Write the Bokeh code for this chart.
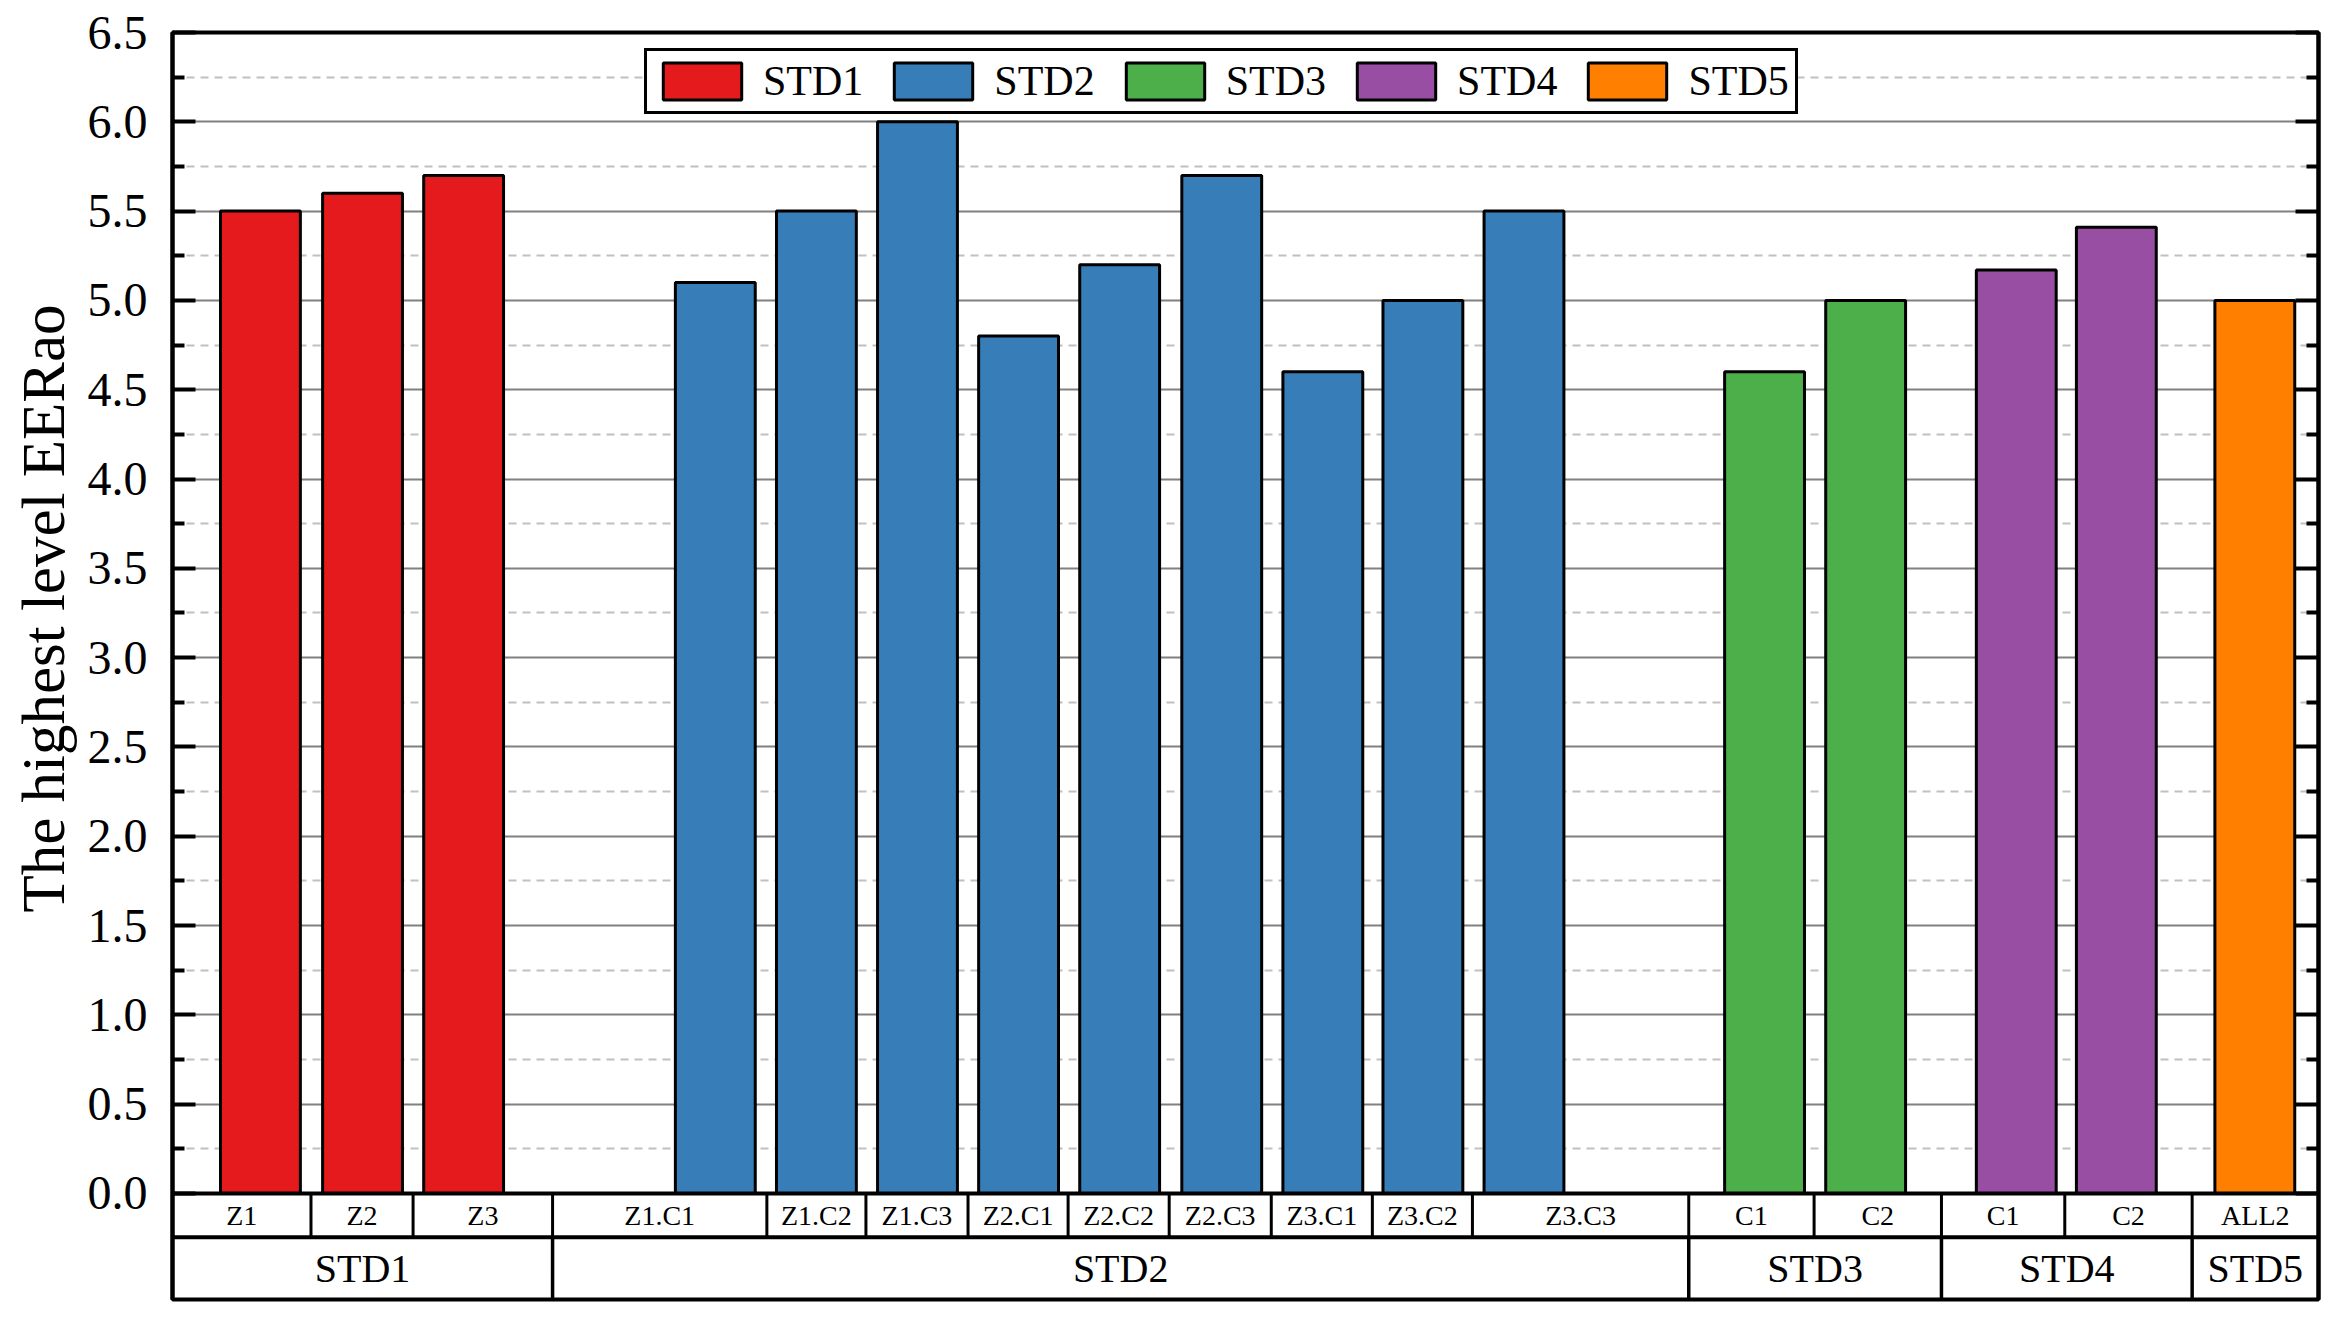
from bokeh.plotting import figure
from bokeh.models import Range1d, FixedTicker, LinearAxis, ColumnDataSource, NumeralTickFormatter, Title
from bokeh.core.properties import value
from bokeh.embed import file_html
from bokeh.resources import INLINE

# ---------------- data ----------------
groups = ["STD1", "STD2", "STD3", "STD4", "STD5"]
group_sizes = [3, 9, 2, 2, 1]
categories = ["Z1", "Z2", "Z3",
              "Z1.C1", "Z1.C2", "Z1.C3", "Z2.C1", "Z2.C2", "Z2.C3", "Z3.C1", "Z3.C2", "Z3.C3",
              "C1", "C2",
              "C1", "C2",
              "ALL2"]
values = [5.5, 5.6, 5.7,
          5.1, 5.5, 6.0, 4.8, 5.2, 5.7, 4.6, 5.0, 5.5,
          4.6, 5.0,
          5.17, 5.41,
          5.0]
group_colors = ["#E41A1C", "#377EB8", "#4DAF4A", "#984EA3", "#FF7F00"]
major_ticks = [0.0, 0.5, 1.0, 1.5, 2.0, 2.5, 3.0, 3.5, 4.0, 4.5, 5.0, 5.5, 6.0, 6.5]
minor_ticks = [0.25, 0.75, 1.25, 1.75, 2.25, 2.75, 3.25, 3.75, 4.25, 4.75, 5.25, 5.75, 6.25]
y_label = "The highest level EERao"

# ---------------- layout (x in slot units) ----------------
bar_x = [0.87, 1.88, 2.88,
         5.37, 6.37, 7.37, 8.37, 9.37, 10.38, 11.38, 12.37, 13.37,
         15.75, 16.75,
         18.24, 19.23,
         20.60]
bar_width = 0.79
cell_edges = [0.0, 1.37, 2.38, 3.76, 5.88, 6.86, 7.87, 8.86, 9.86, 10.87, 11.87, 12.86,
              15.0, 16.24, 17.50, 18.72, 19.98, 21.23]
x_max = 21.23
row1_y = -0.246
table_bottom = -0.594
FONT = "Liberation Serif"

bar_groups = []
bar_colors = []
for g, n, c in zip(groups, group_sizes, group_colors):
    bar_groups += [g] * n
    bar_colors += [c] * n

group_edge_idx = [0]
for n in group_sizes:
    group_edge_idx.append(group_edge_idx[-1] + n)
group_edges = [cell_edges[i] for i in group_edge_idx]

cell_centers = [(a + b) / 2 for a, b in zip(cell_edges[:-1], cell_edges[1:])]
group_centers = [(a + b) / 2 for a, b in zip(group_edges[:-1], group_edges[1:])]

p = figure(width=2332, height=1309,
           x_range=Range1d(0, x_max), y_range=Range1d(table_bottom, 6.5),
           output_backend="svg", toolbar_location=None,
           x_axis_location=None, y_axis_location="left",
           min_border_left=172, min_border_top=32, min_border_right=14, min_border_bottom=10)
p.background_fill_color = "white"
p.border_fill_color = "white"
p.outline_line_color = "black"
p.outline_line_width = 4

ticker = FixedTicker(ticks=major_ticks, minor_ticks=minor_ticks)

ya = p.yaxis[0]
ya.ticker = ticker
ya.formatter = NumeralTickFormatter(format="0.0")
ya.major_label_text_font = FONT
ya.major_label_text_font_size = "48px"
ya.major_label_text_color = "black"
ya.major_label_standoff = 25
ya.axis_line_width = 4
ya.axis_line_color = "black"
ya.major_tick_in = 23
ya.major_tick_out = 0
ya.minor_tick_in = 12
ya.minor_tick_out = 0
ya.major_tick_line_width = 4
ya.minor_tick_line_width = 4
ya.major_tick_line_color = "black"
ya.minor_tick_line_color = "black"

p.add_layout(Title(text=y_label, align="right", offset=272, text_font=FONT,
                   text_font_size="61px", text_font_style="normal", text_color="black",
                   standoff=15), "left")

ra = LinearAxis(ticker=ticker, major_label_overrides={t: "" for t in major_ticks},
                major_label_standoff=0,
                axis_line_width=4, axis_line_color="black",
                major_tick_in=23, major_tick_out=0, minor_tick_in=12, minor_tick_out=0,
                major_tick_line_width=4, minor_tick_line_width=4)
p.add_layout(ra, "right")

p.xgrid.visible = False
p.ygrid.ticker = ticker
p.ygrid.grid_line_color = "#808080"
p.ygrid.grid_line_width = 2
p.ygrid.minor_grid_line_color = "#c0c0c0"
p.ygrid.minor_grid_line_width = 2
p.ygrid.minor_grid_line_dash = "8 6"

src = ColumnDataSource(dict(x=bar_x, top=values, color=bar_colors, grp=bar_groups))
p.vbar(x="x", top="top", bottom=0, width=bar_width, source=src,
       fill_color="color", line_color="black", line_width=3, legend_group="grp")

# ---- category table below the plot ----
p.segment(x0=[0, 0], y0=[0, row1_y], x1=[x_max, x_max], y1=[0, row1_y],
          line_color="black", line_width=4)
inner = cell_edges[1:-1]
p.segment(x0=inner, y0=[0] * len(inner), x1=inner, y1=[row1_y] * len(inner),
          line_color="black", line_width=3)
ginner = group_edges[1:-1]
p.segment(x0=ginner, y0=[row1_y] * len(ginner), x1=ginner, y1=[table_bottom] * len(ginner),
          line_color="black", line_width=3.5)

p.text(x=cell_centers, y=[row1_y / 2] * len(cell_centers), text=categories,
       text_align="center", text_baseline="middle", text_font=value(FONT),
       text_font_size="28px", text_color="black")
p.text(x=group_centers, y=[(row1_y + table_bottom) / 2] * len(group_centers), text=groups,
       text_align="center", text_baseline="middle", text_font=value(FONT),
       text_font_size="40px", text_color="black")

lg = p.legend[0]
lg.orientation = "horizontal"
lg.location = (472, 1185)
lg.margin = 0
lg.padding = 6
lg.spacing = 21
lg.glyph_width = 98
lg.glyph_height = 46
lg.label_standoff = 12
lg.label_text_font = FONT
lg.label_text_font_size = "42px"
lg.label_text_color = "black"
lg.border_line_color = "black"
lg.border_line_alpha = 1.0
lg.border_line_width = 3
lg.background_fill_alpha = 1.0

open("out.html", "w").write(file_html(p, INLINE))
